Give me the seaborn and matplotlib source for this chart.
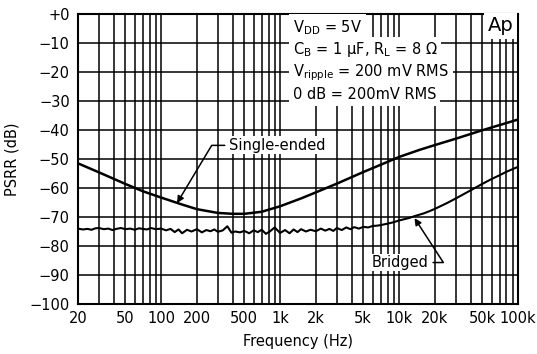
import matplotlib
matplotlib.use("Agg")
import matplotlib.pyplot as plt
import seaborn as sns
import pandas as pd
import numpy as np

# ---- data ----
se_freq = [20, 30, 50, 70, 100, 150, 200, 300, 400, 500, 700, 1000, 1500, 2000,
           3000, 5000, 7000, 10000, 15000, 20000, 30000, 50000, 70000, 100000]
se_db = [-51.5, -54.6, -58.6, -61.1, -63.3, -65.7, -67.3, -68.6, -68.9, -68.9,
         -68.2, -66.3, -63.6, -61.5, -58.5, -54.5, -52.0, -49.3, -46.8, -45.2,
         -43.0, -40.1, -38.3, -36.4]

br_freq = [20, 22, 24, 26, 28, 30, 33, 36, 39, 42, 46, 50, 55, 60, 65, 70, 76, 82,
           90, 100, 110, 120, 130, 140, 150, 165, 180, 200, 220, 240, 260, 280,
           300, 330, 360, 390, 420, 460, 500, 550, 600, 650, 700, 760, 820, 900,
           1000, 1100, 1200, 1300, 1400, 1500, 1650, 1800, 2000, 2200, 2400, 2600,
           2800, 3000, 3300, 3600, 3900, 4200, 4600, 5000, 5500, 6000, 6500, 7000,
           8000, 9000, 10000, 12000, 14000, 16000, 18000, 20000, 25000, 30000,
           40000, 50000, 60000, 70000, 80000, 100000]
br_db = [-74.0, -74.3, -74.1, -74.4, -73.9, -73.8, -74.2, -74.0, -74.5, -74.1,
         -73.8, -74.2, -74.0, -74.4, -73.9, -74.1, -74.3, -73.8, -74.2, -74.0,
         -74.6, -74.1, -75.2, -74.3, -75.6, -74.4, -75.0, -74.2, -75.3, -74.5,
         -74.9, -74.3, -75.1, -74.6, -73.2, -75.4, -75.0, -75.3, -74.8, -75.6,
         -74.6, -75.2, -74.4, -75.8, -75.0, -73.6, -75.5, -74.5, -75.6, -74.3,
         -75.2, -74.2, -75.0, -74.4, -74.9, -74.0, -74.7, -74.1, -74.8, -73.8,
         -74.5, -73.6, -74.2, -73.5, -74.0, -73.4, -73.6, -73.1, -73.0, -72.8,
         -72.3, -71.8, -71.2, -70.4, -69.5, -68.8, -68.0, -67.2, -65.3, -63.6,
         -60.8, -58.6, -56.9, -55.6, -54.4, -52.7]

xtick_vals = [20, 50, 100, 200, 500, 1000, 2000, 5000, 10000, 20000, 50000, 100000]
xtick_labels = ["20", "50", "100", "200", "500", "1k", "2k", "5k", "10k", "20k", "50k", "100k"]
ytick_vals = [0, -10, -20, -30, -40, -50, -60, -70, -80, -90, -100]
ytick_labels = ["+0", "\u221210", "\u221220", "\u221230", "\u221240", "\u221250",
                "\u221260", "\u221270", "\u221280", "\u221290", "\u2212100"]

# ---- figure ----
sns.set_style("white")
plt.rcParams["font.family"] = ["DejaVu Sans"]
plt.rcParams["text.color"] = "black"
plt.rcParams["axes.labelcolor"] = "black"
plt.rcParams["mathtext.default"] = "regular"
fig = plt.figure(figsize=(5.37, 3.54), dpi=100)
ax = fig.add_axes([78 / 537, 1 - 304 / 354, 440 / 537, 290 / 354])

df_se = pd.DataFrame({"f": se_freq, "db": se_db})
df_br = pd.DataFrame({"f": br_freq, "db": br_db})
sns.lineplot(data=df_se, x="f", y="db", ax=ax, color="black", lw=1.8, estimator=None, sort=False, zorder=3)
sns.lineplot(data=df_br, x="f", y="db", ax=ax, color="black", lw=1.5, estimator=None, sort=False, zorder=3)

ax.set_xscale("log")
ax.set_xlim(20, 100000)
ax.set_ylim(-100, 0)

# grid lines: every 1-9 multiple per decade, every 10 dB
grid_x = [m * 10 ** d for d in range(1, 6) for m in range(1, 10) if 20 <= m * 10 ** d <= 100000]
for gx in grid_x:
    ax.axvline(gx, color="black", lw=1.1, zorder=1)
for gy in ytick_vals:
    ax.axhline(gy, color="black", lw=1.1, zorder=1)

ax.set_xticks(xtick_vals)
ax.set_xticklabels(xtick_labels)
ax.xaxis.set_minor_locator(matplotlib.ticker.NullLocator())
ax.set_yticks(ytick_vals)
ax.set_yticklabels(ytick_labels)
ax.tick_params(axis="both", length=0, labelsize=10.5, colors="black", pad=6)
ax.tick_params(axis="x", pad=5)
ax.set_xlabel("Frequency (Hz)", fontsize=10.5, labelpad=6)
ax.set_ylabel("PSRR (dB)", fontsize=10.5, labelpad=7)
for s in ax.spines.values():
    s.set_color("black")
    s.set_linewidth(1.5)
    s.set_visible(True)

# condition text lines
bb = dict(facecolor="white", edgecolor="none", pad=2.6)
lines = [r"V$_{\mathrm{DD}}$ = 5V",
         r"C$_{\mathrm{B}}$ = 1 $\mu$F, R$_{\mathrm{L}}$ = 8 $\Omega$",
         r"V$_{\mathrm{ripple}}$ = 200 mV RMS",
         r"0 dB = 200mV RMS"]
ys = [-4.6, -12.3, -20.1, -27.8]
for t, yv in zip(lines, ys):
    ax.text(1282, yv, t, fontsize=10.5, va="center", ha="left", bbox=bb, zorder=4)

ax.text(71000, -4.0, "Ap", fontsize=14, va="center", ha="center",
        bbox=dict(facecolor="white", edgecolor="none", pad=2.5), zorder=4)

# annotations
ax.annotate("Single-ended", xy=(136, -65.2), xytext=(372, -45.3),
            fontsize=10.5, va="center", ha="left",
            bbox=dict(facecolor="white", edgecolor="none", pad=1),
            arrowprops=dict(arrowstyle="-|>", color="black", lw=1.1,
                            mutation_scale=10, shrinkA=2, shrinkB=0,
                            relpos=(0, 0.5),
                            connectionstyle="angle,angleA=0,angleB=59,rad=0"),
            zorder=4)
ax.annotate("Bridged", xy=(13500, -70.4), xytext=(17800, -85.7),
            fontsize=10.5, va="center", ha="right",
            bbox=dict(facecolor="white", edgecolor="none", pad=1),
            arrowprops=dict(arrowstyle="-|>", color="black", lw=1.1,
                            mutation_scale=10, shrinkA=2, shrinkB=0,
                            relpos=(1, 0.5),
                            connectionstyle="angle,angleA=0,angleB=123,rad=0"),
            zorder=4)

fig.savefig("out.png", dpi=100)
